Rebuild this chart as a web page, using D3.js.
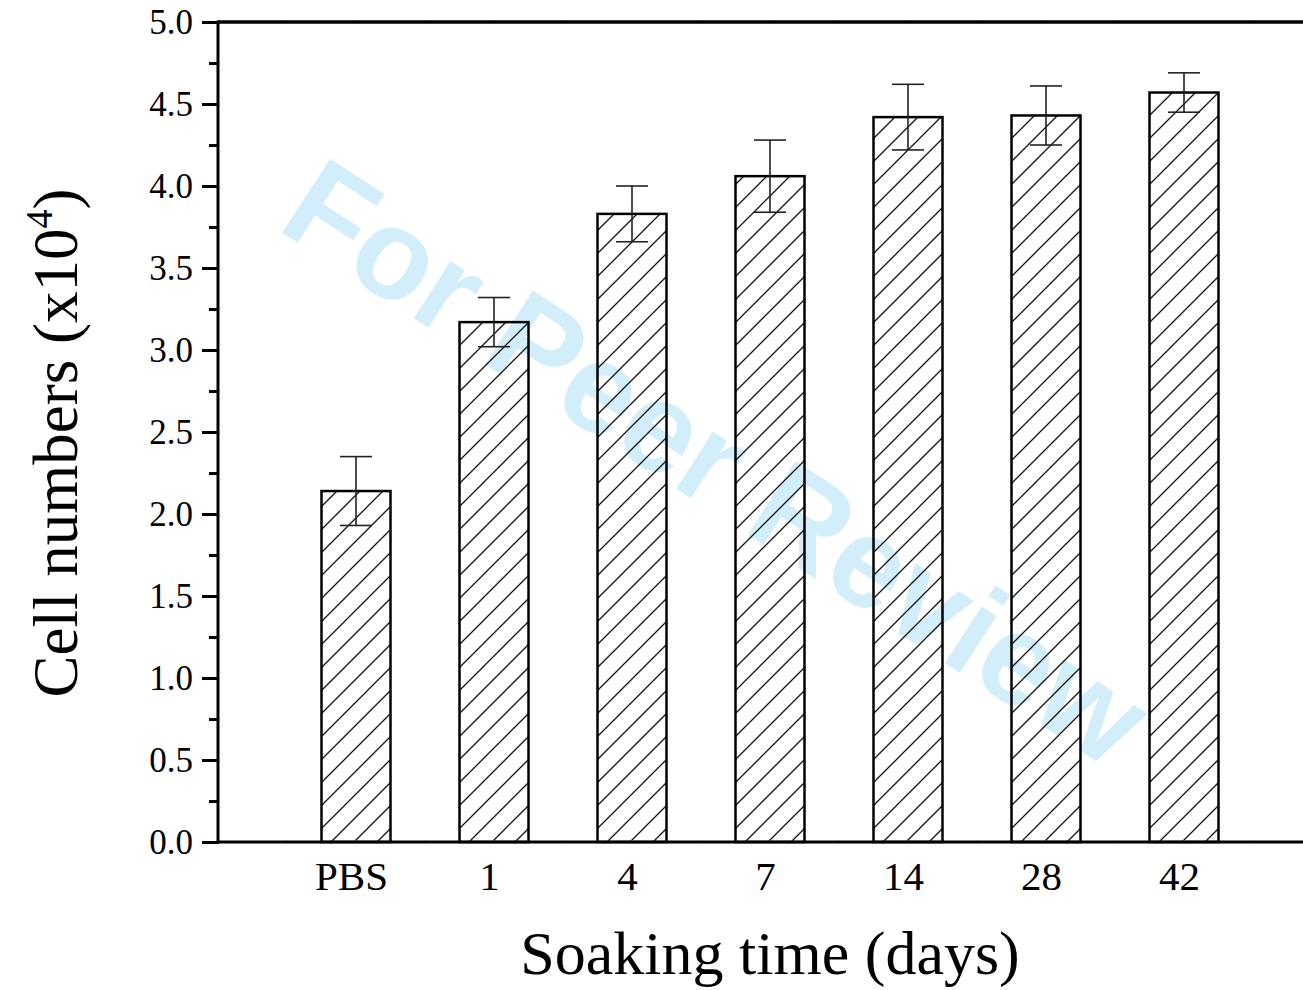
<!DOCTYPE html>
<meta charset="utf-8">
<style>
body { margin: 0; background: white; }
svg { display: block; overflow: hidden; }
.tick text { font-family: "Liberation Serif", "Times New Roman", serif; fill: black; }
</style>
<body>
<script src="https://d3js.org/d3.v7.min.js"></script>
<script>
var categories = ["PBS", "1", "4", "7", "14", "28", "42"];
var values = [2.14, 3.17, 3.83, 4.06, 4.42, 4.43, 4.57];
var errors = [0.21, 0.15, 0.17, 0.22, 0.20, 0.18, 0.12];
var yTicks = [0, 0.5, 1, 1.5, 2, 2.5, 3, 3.5, 4, 4.5, 5];

var width = 1303,
    height = 990;

var svg = d3.select("body").append("svg")
    .attr("width", width)
    .attr("height", height);

// category i sits at position i+1 on a linear axis from 0 to 8
var x = d3.scaleLinear().domain([0, 8]).range([218, 1322]);
var y = d3.scaleLinear().domain([0, 5]).range([842, 22]);

var defs = svg.append("defs");
var pat = defs.append("pattern")
    .attr("id", "hatch")
    .attr("patternUnits", "userSpaceOnUse")
    .attr("width", 23)
    .attr("height", 23);
pat.append("path")
    .attr("d", "M0,23 L23,0 M-3,3 L3,-3 M20,26 L26,20")
    .attr("stroke", "#111")
    .attr("stroke-width", 1.3);

// watermark behind the bars
svg.append("text")
    .attr("transform", "translate(717,462) rotate(33)")
    .attr("text-anchor", "middle")
    .attr("dominant-baseline", "central")
    .style("font-family", "'Liberation Sans', Arial, sans-serif")
    .style("font-weight", "bold")
    .style("font-size", "128px")
    .attr("fill", "#d3eefb")
    .text("For Peer Review");

var barW = x(0.5) - x(0);

svg.append("g")
  .selectAll("rect")
  .data(values)
  .enter().append("rect")
    .attr("x", (d, i) => x(i + 1) - barW / 2)
    .attr("y", d => y(d))
    .attr("width", barW)
    .attr("height", d => y(0) - y(d))
    .attr("fill", "url(#hatch)")
    .attr("stroke", "black")
    .attr("stroke-width", 2.5);

// error bars
var eb = svg.append("g")
    .attr("stroke", "#222")
    .attr("stroke-width", 1.6)
    .selectAll("g")
    .data(values)
    .enter().append("g");
eb.append("line")
    .attr("x1", (d, i) => x(i + 1)).attr("x2", (d, i) => x(i + 1))
    .attr("y1", (d, i) => y(d + errors[i])).attr("y2", (d, i) => y(d - errors[i]));
eb.append("line")
    .attr("x1", (d, i) => x(i + 1) - 16).attr("x2", (d, i) => x(i + 1) + 16)
    .attr("y1", (d, i) => y(d + errors[i])).attr("y2", (d, i) => y(d + errors[i]));
eb.append("line")
    .attr("x1", (d, i) => x(i + 1) - 16).attr("x2", (d, i) => x(i + 1) + 16)
    .attr("y1", (d, i) => y(d - errors[i])).attr("y2", (d, i) => y(d - errors[i]));

// faint half-step marks on the bottom and top lines
var halfSteps = d3.range(1, 16).map(k => k * 0.5);
[842, 22].forEach(function(yy) {
  svg.append("g").selectAll("line")
    .data(halfSteps)
    .enter().append("line")
      .attr("x1", d => x(d)).attr("x2", d => x(d))
      .attr("y1", yy - 2).attr("y2", yy + 2)
      .attr("stroke", "#bbb")
      .attr("stroke-width", 1);
});

// y axis: minor ticks then major ticks
svg.append("g")
    .attr("transform", "translate(218,0)")
    .call(d3.axisLeft(y).tickValues(d3.range(0.25, 5, 0.5)).tickSize(9).tickFormat(""))
    .call(g => g.select(".domain").remove())
    .selectAll("line").attr("stroke-width", 3);

var yAxis = svg.append("g")
    .attr("transform", "translate(218,0)")
    .call(d3.axisLeft(y).tickValues(yTicks).tickSize(16).tickPadding(9).tickFormat(d3.format(".1f")));
yAxis.select(".domain").remove();
yAxis.selectAll("line").attr("stroke-width", 3);
yAxis.selectAll("text").style("font-size", "35px").attr("dy", "0.34em");

// x category labels
var xAxis = svg.append("g")
    .attr("transform", "translate(0,842)")
    .call(d3.axisBottom(x).tickValues(d3.range(1, 8)).tickSize(0).tickPadding(0)
      .tickFormat((d) => categories[d - 1]));
xAxis.select(".domain").remove();
xAxis.selectAll("text")
    .attr("dy", null).attr("y", 48).attr("dx", -5)
    .style("font-size", "41px");

// frame lines
svg.append("line").attr("x1", 218).attr("x2", width).attr("y1", 842).attr("y2", 842)
    .attr("stroke", "black").attr("stroke-width", 3);
svg.append("line").attr("x1", 218).attr("x2", width).attr("y1", 22).attr("y2", 22)
    .attr("stroke", "black").attr("stroke-width", 3.5);
svg.append("line").attr("x1", 218).attr("x2", 218).attr("y1", 20.5).attr("y2", 843.5)
    .attr("stroke", "black").attr("stroke-width", 3);

// axis titles
svg.append("text")
    .attr("x", 770).attr("y", 974)
    .attr("text-anchor", "middle")
    .style("font-family", "'Liberation Serif', 'Times New Roman', serif")
    .style("font-size", "62px")
    .text("Soaking time (days)");

var yt = svg.append("text")
    .attr("transform", "translate(77,443) rotate(-90)")
    .attr("text-anchor", "middle")
    .style("font-family", "'Liberation Serif', 'Times New Roman', serif")
    .style("font-size", "63px");
yt.append("tspan").text("Cell numbers (x10");
yt.append("tspan").attr("dy", -25).style("font-size", "38px").text("4");
yt.append("tspan").attr("dy", 25).text(")");
</script>
</body>
</html>
